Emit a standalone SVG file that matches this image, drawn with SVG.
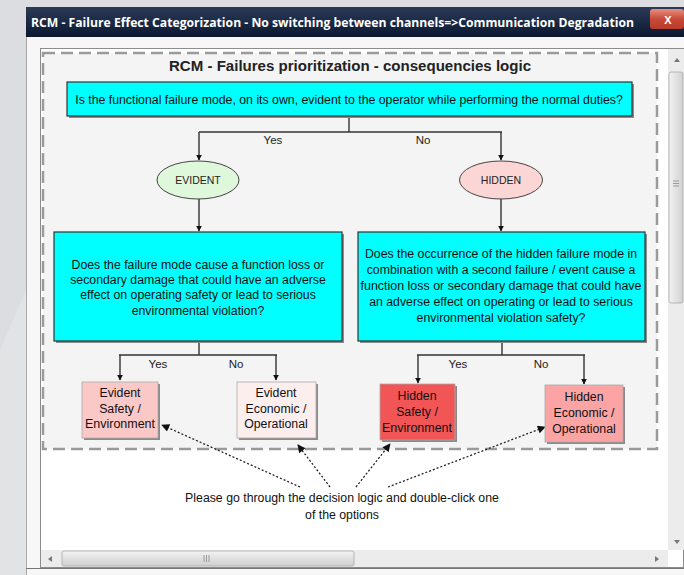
<svg xmlns="http://www.w3.org/2000/svg" width="684" height="575" viewBox="0 0 684 575">
<defs>
<style>
.t{font-family:"Liberation Sans",Arial,sans-serif;font-size:12.3px;fill:#111;text-anchor:middle}
.lbl{font-family:"Liberation Sans",Arial,sans-serif;font-size:11.5px;fill:#222;text-anchor:middle}
.ell{font-family:"Liberation Sans",Arial,sans-serif;font-size:10.5px;fill:#222;text-anchor:middle}
.q{fill:#00ffff;stroke:#333;stroke-width:1.2}
.sh{fill:#8a8a8a}
.conn{fill:none;stroke:#333;stroke-width:1.4}
.dot{fill:none;stroke:#222;stroke-width:1.3;stroke-dasharray:2,2}
.ob{stroke:#aaa;stroke-width:0.8}
</style>
<marker id="ah" viewBox="0 0 10 10" refX="9" refY="5" markerWidth="6" markerHeight="6" orient="auto" markerUnits="userSpaceOnUse"><path d="M0,0 L10,5 L0,10 z" fill="#111"/></marker>
<marker id="ah2" viewBox="0 0 10 10" refX="9" refY="5" markerWidth="9" markerHeight="8" orient="auto" markerUnits="userSpaceOnUse"><path d="M0,0 L10,5 L0,10 z" fill="#111"/></marker>
<linearGradient id="tb" x1="0" y1="0" x2="0" y2="1"><stop offset="0" stop-color="#2a3a58"/><stop offset="1" stop-color="#0c1830"/></linearGradient>
<linearGradient id="cl" x1="0" y1="0" x2="0" y2="1"><stop offset="0" stop-color="#e89080"/><stop offset="0.5" stop-color="#c84a38"/><stop offset="1" stop-color="#b83a28"/></linearGradient>
<linearGradient id="vth" x1="0" y1="0" x2="1" y2="0"><stop offset="0" stop-color="#f2f2f2"/><stop offset="1" stop-color="#d2d2d2"/></linearGradient>
<linearGradient id="hth" x1="0" y1="0" x2="0" y2="1"><stop offset="0" stop-color="#f2f2f2"/><stop offset="1" stop-color="#cfcfcf"/></linearGradient>
</defs>

<!-- page background -->
<rect x="0" y="0" width="684" height="575" fill="#dcdde0"/>
<polygon points="0,350 26,290 26,575 0,575" fill="#e2e3e5"/>

<!-- window -->
<rect x="26" y="7" width="658" height="568" fill="#f7f7f7"/>
<line x1="26.5" y1="7" x2="26.5" y2="575" stroke="#a8a8a8" stroke-width="1"/>
<rect x="26" y="7" width="658" height="30" fill="url(#tb)"/>
<text x="31" y="27" font-family="'Open Sans','Liberation Sans',sans-serif" font-size="12" font-weight="bold" fill="#ffffff" textLength="603" lengthAdjust="spacingAndGlyphs">RCM - Failure Effect Categorization - No switching between channels=&gt;Communication Degradation</text>
<rect x="650" y="9" width="34" height="20" rx="3" fill="url(#cl)"/>
<text x="668" y="24" font-family="'Liberation Sans',sans-serif" font-size="11" font-weight="bold" fill="#ffffff" text-anchor="middle">X</text>

<!-- content panel -->
<rect x="40.5" y="48.5" width="643" height="519" fill="#ffffff" stroke="#8c8c8c" stroke-width="1"/>
<rect x="43" y="53" width="614" height="396" fill="#f4f4f4"/>
<rect x="43" y="53" width="614" height="396" fill="none" stroke="#9a9a9a" stroke-width="2.5" stroke-dasharray="12,6"/>

<!-- scrollbars -->
<rect x="668" y="49" width="16" height="501" fill="#ececec"/>
<path d="M674,62 L677,58 L680,62 z" fill="#777"/>
<rect x="669" y="72" width="14" height="231" rx="2" fill="url(#vth)" stroke="#aaa" stroke-width="0.8"/>
<path d="M673,181 H679 M673,183.5 H679 M673,186 H679" stroke="#888" stroke-width="0.8"/>
<path d="M674,540 L677,544 L680,540 z" fill="#777"/>
<rect x="41" y="550" width="627" height="17" fill="#ececec"/>
<path d="M52,556 L48,559 L52,562 z" fill="#777"/>
<rect x="62" y="551" width="292" height="15" rx="2" fill="url(#hth)" stroke="#aaa" stroke-width="0.8"/>
<path d="M204,555 V562 M206.5,555 V562 M209,555 V562" stroke="#888" stroke-width="0.8"/>
<path d="M655,556 L659,559 L655,562 z" fill="#777"/>
<line x1="26" y1="568.5" x2="684" y2="568.5" stroke="#777" stroke-width="1"/>

<!-- diagram title -->
<text x="350" y="71" font-family="'Liberation Sans',Arial,sans-serif" font-size="14.5" font-weight="bold" fill="#222" text-anchor="middle" textLength="362" lengthAdjust="spacingAndGlyphs">RCM - Failures prioritization - consequencies logic</text>

<!-- connectors -->
<g id="connectors">
<path class="conn" d="M349,116 V132 M199,132 H502"/>
<path class="conn" d="M199,132 V160" marker-end="url(#ah)"/>
<path class="conn" d="M501,132 V160" marker-end="url(#ah)"/>
<path class="conn" d="M199,199 V231" marker-end="url(#ah)"/>
<path class="conn" d="M501,199 V231" marker-end="url(#ah)"/>
<path class="conn" d="M199,341 V355 M119,355 H277"/>
<path class="conn" d="M120,355 V380" marker-end="url(#ah)"/>
<path class="conn" d="M276,355 V380" marker-end="url(#ah)"/>
<path class="conn" d="M502,341 V355 M417,355 H585"/>
<path class="conn" d="M418,355 V383" marker-end="url(#ah)"/>
<path class="conn" d="M584,355 V384" marker-end="url(#ah)"/>
<text class="lbl" x="273" y="144">Yes</text>
<text class="lbl" x="423" y="144">No</text>
<text class="lbl" x="158" y="368">Yes</text>
<text class="lbl" x="236" y="368">No</text>
<text class="lbl" x="458" y="368">Yes</text>
<text class="lbl" x="541" y="368">No</text>
<path class="dot" d="M300,487 L162,425" marker-end="url(#ah2)"/>
<path class="dot" d="M330,487 L298,445" marker-end="url(#ah2)"/>
<path class="dot" d="M356,487 L390,444" marker-end="url(#ah2)"/>
<path class="dot" d="M388,487 L545,427" marker-end="url(#ah2)"/>
</g>

<g id="q-evident">
<rect x="69" y="84" width="565" height="34" class="sh"/>
<rect x="67" y="82" width="565" height="34" class="q"/>
<text class="t" x="349" y="104">Is the functional failure mode, on its own, evident to the operator while performing the normal duties?</text>
</g>

<g id="evident">
<ellipse cx="198" cy="180" rx="41" ry="19" fill="#dff7da" stroke="#444" stroke-width="1"/>
<text class="ell" x="198" y="184">EVIDENT</text>
</g>

<g id="hidden">
<ellipse cx="501" cy="180" rx="41.5" ry="19" fill="#fcd6d4" stroke="#444" stroke-width="1"/>
<text class="ell" x="501" y="184">HIDDEN</text>
</g>

<g id="q-evident-consequence">
<rect x="56" y="234" width="288" height="109" class="sh"/>
<rect x="54" y="232" width="288" height="109" class="q"/>
<text class="t" x="198" y="269">Does the failure mode cause a function loss or</text>
<text class="t" x="198" y="284">secondary damage that could have an adverse</text>
<text class="t" x="198" y="299">effect on operating safety or lead to serious</text>
<text class="t" x="198" y="315">environmental violation?</text>
</g>

<g id="q-hidden-consequence">
<rect x="360" y="234" width="287" height="109" class="sh"/>
<rect x="358" y="232" width="287" height="109" class="q"/>
<text class="t" x="501" y="258">Does the occurrence of the hidden failure mode in</text>
<text class="t" x="501" y="274">combination with a second failure / event cause a</text>
<text class="t" x="501" y="290" textLength="281" lengthAdjust="spacingAndGlyphs">function loss or secondary damage that could have</text>
<text class="t" x="501" y="306">an adverse effect on operating or lead to serious</text>
<text class="t" x="501" y="322">environmental violation safety?</text>
</g>

<g id="evident-safety">
<rect x="84" y="384" width="76" height="56" class="sh"/>
<rect x="82" y="382" width="76" height="56" fill="#fbc8c8" class="ob"/>
<text class="t" x="120" y="397">Evident</text>
<text class="t" x="120" y="413">Safety /</text>
<text class="t" x="120" y="428" textLength="70" lengthAdjust="spacingAndGlyphs">Environment</text>
</g>

<g id="evident-economic">
<rect x="239" y="384" width="79" height="56" class="sh"/>
<rect x="237" y="382" width="79" height="56" fill="#fdeeee" class="ob"/>
<text class="t" x="276" y="397">Evident</text>
<text class="t" x="276" y="413">Economic /</text>
<text class="t" x="276" y="428">Operational</text>
</g>

<g id="hidden-safety">
<rect x="382" y="386" width="75" height="56" class="sh"/>
<rect x="380" y="384" width="75" height="56" fill="#f25555" class="ob"/>
<text class="t" x="417" y="400">Hidden</text>
<text class="t" x="417" y="416">Safety /</text>
<text class="t" x="417" y="432" textLength="70" lengthAdjust="spacingAndGlyphs">Environment</text>
</g>

<g id="hidden-economic">
<rect x="547" y="387" width="78" height="57" class="sh"/>
<rect x="545" y="385" width="78" height="57" fill="#fca4a4" class="ob"/>
<text class="t" x="584" y="401">Hidden</text>
<text class="t" x="584" y="417">Economic /</text>
<text class="t" x="584" y="433">Operational</text>
</g>

<g id="instruction">
<text class="t" x="342" y="502">Please go through the decision logic and double-click one</text>
<text class="t" x="342" y="519">of the options</text>
</g>
</svg>
